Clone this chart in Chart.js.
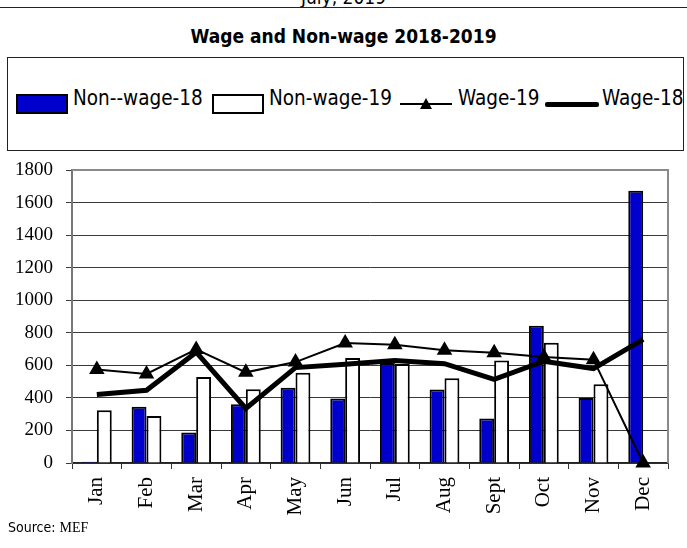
<!DOCTYPE html>
<html>
<head>
<meta charset="utf-8">
<script src="https://cdn.jsdelivr.net/npm/chart.js@4/dist/chart.umd.min.js"></script>
<style>
  body { margin: 0; background: #fff; }
  #page { position: relative; width: 687px; height: 548px; overflow: hidden; font-family: "DejaVu Sans Condensed", "DejaVu Sans", sans-serif; }
  #chart { position: absolute; left: 0; top: 0; }
  .abs { position: absolute; }
  .cut { top: -14px; left: 0; width: 687px; text-align: center; font-size: 19px; }
  .rule { top: 7px; left: 0; width: 687px; border-top: 1.5px solid #222; }
  .title { top: 25px; left: 0; width: 687px; text-align: center; font-size: 19px; font-weight: bold; }
  .legend { left: 7px; top: 57px; width: 677px; height: 94px; border: 1px solid #222; box-sizing: border-box; }
  .lt { top: 86px; font-size: 20.5px; line-height: 24px; white-space: nowrap; }
  .sw { top: 94px; height: 20px; border: 2px solid #000; box-sizing: border-box; }
  .ln { background: #000; }
  .tri { left: 420px; top: 98px; width: 0; height: 0; border-left: 6px solid transparent; border-right: 6px solid transparent; border-bottom: 11px solid #000; }
  .source { left: 8px; top: 519px; font-size: 14px; }
  .source span { font-family: "Liberation Serif", serif; }
</style>
</head>
<body>
<div id="page">
  <div class="abs cut">July, 2019</div>
  <div class="abs rule"></div>
  <div class="abs title">Wage and Non-wage 2018-2019</div>
  <div class="abs legend"></div>
  <div class="abs sw" style="left:16px;width:52px;background:#0000cc"></div>
  <div class="abs lt" style="left:73px">Non--wage-18</div>
  <div class="abs sw" style="left:212px;width:52px;background:#fff"></div>
  <div class="abs lt" style="left:269px">Non-wage-19</div>
  <div class="abs ln" style="left:400px;top:103px;width:52px;height:2px"></div>
  <div class="abs tri"></div>
  <div class="abs lt" style="left:458px">Wage-19</div>
  <div class="abs ln" style="left:545px;top:102px;width:54px;height:5px;border-radius:2px"></div>
  <div class="abs lt" style="left:602px">Wage-18</div>
  <canvas id="chart" width="687" height="548"></canvas>
  <div class="abs source">Source: <span>MEF</span></div>
</div>
<script>
const months = ["Jan", "Feb", "Mar", "Apr", "May", "Jun", "Jul", "Aug", "Sept", "Oct", "Nov", "Dec"];
const nonWage18 = [8, 345, 188, 361, 463, 396, 615, 451, 274, 843, 400, 1673];
const nonWage19 = [324, 288, 528, 453, 555, 645, 608, 520, 629, 739, 484, null];
const wage19 = [574, 547, 698, 557, 620, 737, 727, 692, 678, 651, 635, 0];
const wage18 = [421, 447, 681, 335, 586, 606, 630, 610, 514, 625, 580, 759];
const yTicks = [0, 200, 400, 600, 800, 1000, 1200, 1400, 1600, 1800];

const plotBorder = {
  id: "plotBorder",
  beforeDatasetsDraw(chart) {
    const { ctx, chartArea: a } = chart;
    ctx.save();
    ctx.strokeStyle = "#8a8a8a";
    ctx.lineWidth = 2;
    ctx.beginPath();
    ctx.moveTo(a.left, a.top);
    ctx.lineTo(a.right, a.top);
    ctx.lineTo(a.right, a.bottom);
    ctx.stroke();
    ctx.restore();
  }
};

const ctx = document.getElementById("chart").getContext("2d");
new Chart(ctx, {
  type: "bar",
  data: {
    labels: months,
    datasets: [
      { type: "line", label: "Wage-19", data: wage19, borderColor: "#000", borderWidth: 2, pointStyle: "triangle", pointRadius: 7, pointBackgroundColor: "#000", pointBorderColor: "#000", tension: 0, clip: false, order: 1 },
      { type: "line", label: "Wage-18", data: wage18, borderColor: "#000", borderWidth: 5, pointRadius: 0, tension: 0, clip: false, order: 1 },
      { label: "Non--wage-18", data: nonWage18, backgroundColor: "#0000cc", borderColor: "#000", borderWidth: 2, order: 2 },
      { label: "Non-wage-19", data: nonWage19, backgroundColor: "#fff", borderColor: "#000", borderWidth: 2, order: 2 }
    ]
  },
  options: {
    responsive: false,
    animation: false,
    devicePixelRatio: 1,
    datasets: { bar: { barPercentage: 1, categoryPercentage: 0.6 } },
    layout: { padding: { top: 170, right: 19, left: 0, bottom: 0 } },
    plugins: { legend: { display: false }, tooltip: { enabled: false } },
    scales: {
      x: {
        offset: true,
        grid: { offset: true, drawOnChartArea: false, drawTicks: true, tickLength: 6, color: "#333" },
        border: { color: "#222", width: 1.5 },
        ticks: { color: "#000", minRotation: 90, maxRotation: 90, padding: 8, font: { family: "Liberation Serif", size: 21 } },
        afterFit(scale) { scale.height = 85; }
      },
      y: {
        min: 0,
        max: 1800,
        afterBuildTicks(scale) { scale.ticks = yTicks.map((v) => ({ value: v })); },
        grid: { color: "#3a3a3a", lineWidth: 1, tickLength: 6 },
        border: { color: "#777", width: 2 },
        ticks: { color: "#000", padding: 13, font: { family: "Liberation Serif", size: 19 }, callback: (v) => String(v) },
        afterFit(scale) { scale.width = 72; }
      }
    }
  },
  plugins: [plotBorder]
});
</script>
</body>
</html>
